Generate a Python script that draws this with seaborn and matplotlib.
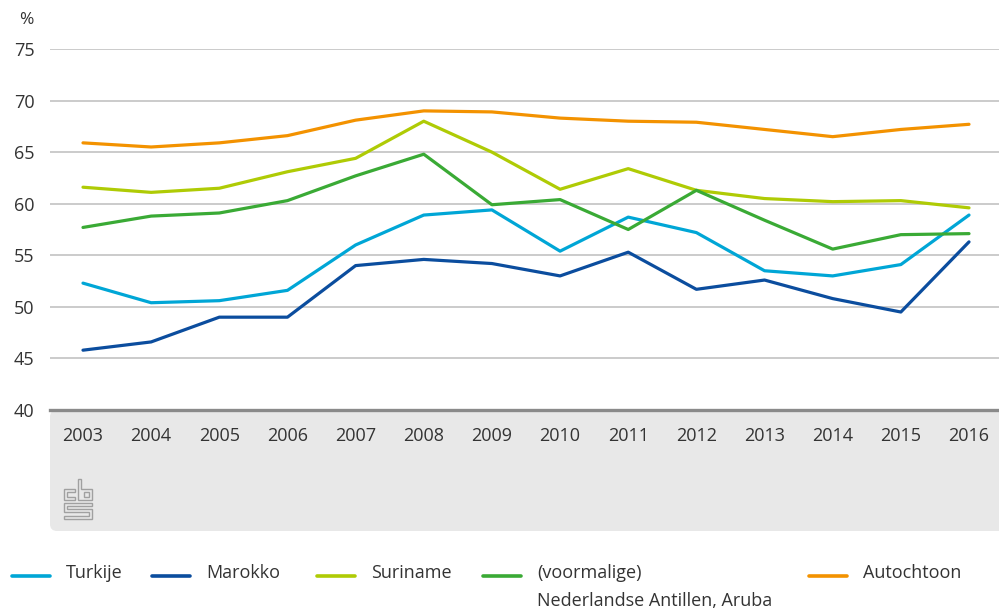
import pandas as pd
import seaborn as sns
import matplotlib.pyplot as plt
from matplotlib.lines import Line2D
from matplotlib.patches import FancyBboxPatch, Polygon

# Data (% per year)
years = list(range(2003, 2017))
turkije = [52.3, 50.4, 50.6, 51.6, 56.0, 58.9, 59.4, 55.4, 58.7, 57.2, 53.5, 53.0, 54.1, 58.9]
marokko = [45.8, 46.6, 49.0, 49.0, 54.0, 54.6, 54.2, 53.0, 55.3, 51.7, 52.6, 50.8, 49.5, 56.3]
suriname = [61.6, 61.1, 61.5, 63.1, 64.4, 68.0, 65.0, 61.4, 63.4, 61.3, 60.5, 60.2, 60.3, 59.6]
antillen = [57.7, 58.8, 59.1, 60.3, 62.7, 64.8, 59.9, 60.4, 57.5, 61.3, 58.4, 55.6, 57.0, 57.1]
autochtoon = [65.9, 65.5, 65.9, 66.6, 68.1, 69.0, 68.9, 68.3, 68.0, 67.9, 67.2, 66.5, 67.2, 67.7]

series = ['Turkije', 'Marokko', 'Suriname',
          '(voormalige)\nNederlandse Antillen, Aruba', 'Autochtoon']
colors = ['#00a6d6', '#0b4d9e', '#afcb05', '#3aaa35', '#f39200']
yticks = [40, 45, 50, 55, 60, 65, 70, 75]

df = pd.DataFrame({'Jaar': years, series[0]: turkije, series[1]: marokko,
                   series[2]: suriname, series[3]: antillen, series[4]: autochtoon})
long_df = df.melt(id_vars='Jaar', var_name='Groep', value_name='Procent')

sns.set_style('white')
plt.rcParams['font.family'] = ['Open Sans', 'DejaVu Sans']
text_color = '#333333'

fig = plt.figure(figsize=(9.99, 6.13), dpi=100)
W, H = 999, 613
ax = fig.add_axes([50 / W, 1 - 410 / H, 949 / W, (410 - 49) / H])

# grey band under the x axis (positions in inches)
band = FancyBboxPatch((0.50, (H - 531) / 100), 10.0, 1.21,
                      boxstyle='round,pad=0,rounding_size=0.07',
                      transform=fig.dpi_scale_trans, facecolor='#e8e8e8',
                      edgecolor='none', zorder=-5)
fig.add_artist(band)

ax.set_facecolor('none')
sns.lineplot(data=long_df, x='Jaar', y='Procent', hue='Groep',
             hue_order=series, palette=colors, linewidth=2.3,
             legend=False, ax=ax, zorder=3)

ax.set_xlim(2002.516, 2016.44)
ax.set_ylim(40, 75)
ax.set_yticks(yticks)
ax.set_xticks(years)
ax.set_xticklabels([str(y) for y in years])
ax.grid(axis='y', color='#bdbdbd', linewidth=1.1)
ax.grid(axis='x', visible=False)
ax.set_xlabel('')
ax.set_ylabel('')
for side in ['top', 'right', 'left']:
    ax.spines[side].set_visible(False)
ax.spines['bottom'].set_color('#8a8a8a')
ax.spines['bottom'].set_linewidth(2.4)
ax.tick_params(axis='y', length=0, pad=11, labelsize=13, labelcolor=text_color)
ax.tick_params(axis='x', length=0, pad=12, labelsize=13, labelcolor=text_color)

fig.text(19 / W, 1 - 20 / H, '%', fontsize=12.5, color=text_color, va='center', ha='left')

# cbs logo outlines, pixel coordinates (y from top)
logo_shapes = [
    [(75, 489), (64, 489), (64, 500), (75, 500), (75, 497), (67, 497), (67, 492), (75, 492)],
    [(78, 479), (81, 479), (81, 489), (92, 489), (92, 500), (78, 500)],
    [(84, 492), (89, 492), (89, 497), (84, 497)],
    [(64, 503), (92, 503), (92, 506), (67, 506), (67, 509), (92, 509), (92, 519),
     (64, 519), (64, 516), (89, 516), (89, 512), (64, 512)],
]
for pts in logo_shapes:
    fig.add_artist(Polygon([(x / W, 1 - y / H) for x, y in pts], closed=True,
                           facecolor='none', edgecolor='#a0a0a0', linewidth=1.0))

# legend, built by hand so the two-line label lines up on its first line
leg_x = [12, 152, 317, 483, 809]
for name, col, x0 in zip(series, colors, leg_x):
    fig.add_artist(Line2D([x0 / W, (x0 + 38) / W], [1 - 576 / H] * 2,
                          color=col, linewidth=2.6))
    fig.text((x0 + 54) / W, 1 - 564 / H, name, fontsize=13, color=text_color,
             va='top', ha='left', linespacing=1.75)

fig.savefig('out.png', dpi=100)
